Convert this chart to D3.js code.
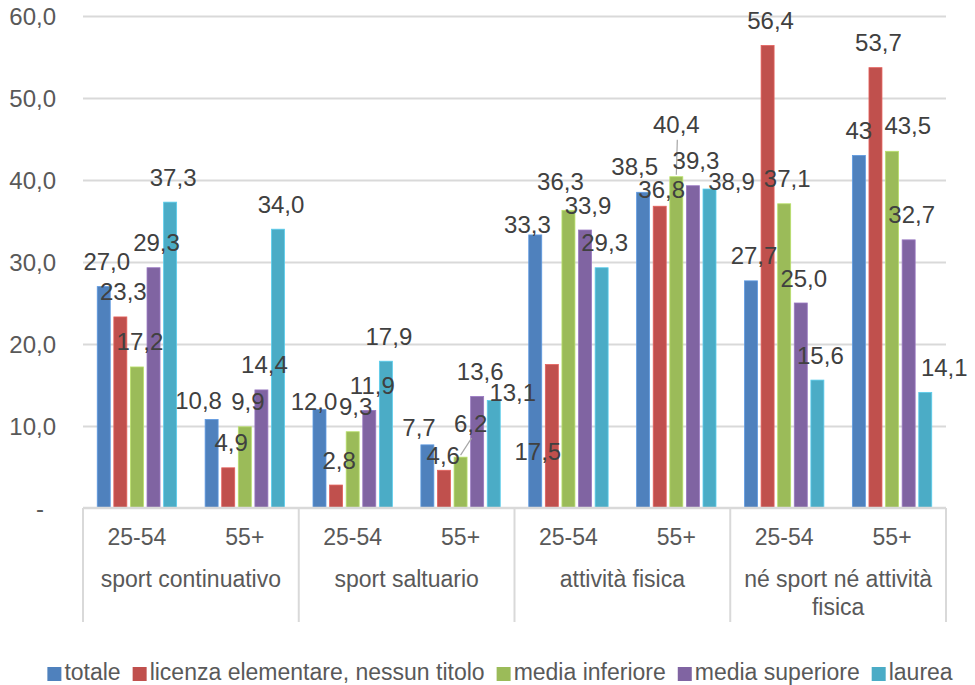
<!DOCTYPE html>
<html>
<head>
<meta charset="utf-8">
<script src="https://cdn.jsdelivr.net/npm/d3@7"></script>
<style>
  body { margin: 0; background: #fff; }
  svg { font-family: 'Liberation Sans', Arial, sans-serif; }
</style>
</head>
<body>
<svg id="chart" width="975" height="685"></svg>
<script>
// categories / sub-categories
var categories = ['sport continuativo', 'sport saltuario', 'attività fisica', 'né sport né attività fisica'];
var ageGroups = ['25-54', '55+'];
var seriesNames = ['totale', 'licenza elementare, nessun titolo', 'media inferiore', 'media superiore', 'laurea'];
var seriesColors = ['#4F81BD', '#C0504D', '#9BBB59', '#8064A2', '#4BACC6'];

// values, order: cat1 25-54, cat1 55+, cat2 25-54, ...
var totale = [27.0, 10.8, 12.0, 7.7, 33.3, 38.5, 27.7, 43];
var licenza = [23.3, 4.9, 2.8, 4.6, 17.5, 36.8, 56.4, 53.7];
var mediaInferiore = [17.2, 9.9, 9.3, 6.2, 36.3, 40.4, 37.1, 43.5];
var mediaSuperiore = [29.3, 14.4, 11.9, 13.6, 33.9, 39.3, 25.0, 32.7];
var laurea = [37.3, 34.0, 17.9, 13.1, 29.3, 38.9, 15.6, 14.1];
var series = [totale, licenza, mediaInferiore, mediaSuperiore, laurea];

var yTicks = [0, 10, 20, 30, 40, 50, 60];

// label shown without decimals in the source
var labelTextOverride = {'0-7': '43'};

// data labels moved by hand in the original (dx, dy from default spot)
var labelShift = {
	'0-1': [-16, 6], '0-2': [-8.5, 16.5], '0-3': [-11.4, 8], '1-3': [-3.7, 10.4],
	'2-3': [7, -9], '4-3': [16, 17], '0-4': [-10.8, 14.7], '1-4': [-17, 112],
	'2-4': [-11, -3.5], '0-5': [-11.4, -1], '1-5': [-1, 8], '2-5': [-3, -27],
	'4-5': [19, 17], '0-7': [-3, 0], '2-7': [12.7, -1], '4-7': [16, 0]
};
var leaderLines = ['2-3', '2-5'];

var svg = d3.select('#chart'),
	margin = {top: 16, right: 29, bottom: 177, left: 83},
	width = +svg.attr('width') - margin.left - margin.right,
	height = +svg.attr('height') - margin.top - margin.bottom;

var it = d3.formatLocale({decimal: ',', thousands: '.', grouping: [3], currency: ['', '€']});
var fmt = it.format('.1f');

var slots = [];
categories.forEach(function(c, ci) {
	ageGroups.forEach(function(a, ai) { slots.push({cat: c, age: a, idx: ci * 2 + ai}); });
});

var x0 = d3.scaleBand().domain(d3.range(slots.length)).range([0, width]).padding(0),
	x1 = d3.scaleBand().domain(d3.range(series.length)).range([0, x0.bandwidth()])
		.paddingInner(0).paddingOuter(0.75),
	y = d3.scaleLinear().domain([0, 60]).range([height, 0]);

var g = svg.append('g')
	.attr('transform', 'translate(' + margin.left + ',' + margin.top + ')');

// y axis + gridlines
var yAxis = g.append('g')
	.attr('class', 'axis axis--y')
	.call(d3.axisLeft(y).tickValues(yTicks).tickSizeInner(-width).tickSizeOuter(0).tickPadding(27)
		.tickFormat(function(d) { return d === 0 ? '-' : fmt(d); }));
yAxis.select('.domain').remove();
yAxis.selectAll('line')
	.attr('stroke', '#d9d9d9')
	.attr('stroke-width', 2)
	.filter(function(d) { return d === 0; }).remove();
yAxis.selectAll('text')
	.attr('fill', '#595959')
	.attr('font-size', 24)
	.attr('dy', '0.35em')
	.attr('x', function(d) { return d === 0 ? -39 : -27; });

// bars
series.forEach(function(vals, s) {
	g.selectAll('.bar-' + s)
		.data(vals)
		.enter().append('rect')
		.attr('class', 'bar bar-' + s)
		.attr('fill', seriesColors[s])
		.attr('stroke', d3.color(seriesColors[s]).brighter(0.5))
		.attr('stroke-width', 0.8)
		.attr('x', function(d, i) { return x0(i) + x1(s) + 1.8; })
		.attr('y', function(d) { return y(d); })
		.attr('width', x1.bandwidth() - 3.6)
		.attr('height', function(d) { return height - y(d); });
});

// category axis
var axisG = g.append('g').attr('class', 'axis axis--x');
axisG.append('line')
	.attr('x1', 0).attr('x2', width)
	.attr('y1', height).attr('y2', height)
	.attr('stroke', '#d9d9d9').attr('stroke-width', 2.5);
d3.range(categories.length + 1).forEach(function(k) {
	var xx = k < categories.length ? x0(k * 2) : width;
	axisG.append('line')
		.attr('x1', xx).attr('x2', xx)
		.attr('y1', height).attr('y2', height + 114)
		.attr('stroke', '#d9d9d9').attr('stroke-width', 2);
});
axisG.selectAll('.sub')
	.data(slots)
	.enter().append('text')
	.attr('class', 'sub')
	.attr('x', function(d) { return x0(d.idx) + x0.bandwidth() / 2; })
	.attr('y', height + 37)
	.attr('text-anchor', 'middle')
	.attr('fill', '#595959')
	.attr('font-size', 23)
	.text(function(d) { return d.age; });

var catText = axisG.selectAll('.cat')
	.data(categories)
	.enter().append('text')
	.attr('class', 'cat')
	.attr('x', function(d, i) { return x0(i * 2) + x0.bandwidth(); })
	.attr('y', height + 79)
	.attr('text-anchor', 'middle')
	.attr('fill', '#595959')
	.attr('font-size', 23);

// simple word wrap for the long category name
catText.each(function(d) {
	var t = d3.select(this), words = d.split(' '), line = [], lineNo = 0,
		xx = t.attr('x');
	var ts = t.append('tspan').attr('x', xx);
	words.forEach(function(w) {
		line.push(w);
		ts.text(line.join(' '));
		if (ts.node().getComputedTextLength() > 2 * x0.bandwidth() - 12 && line.length > 1) {
			line.pop();
			ts.text(line.join(' '));
			line = [w];
			lineNo++;
			ts = t.append('tspan').attr('x', xx).attr('dy', 28).text(w);
		}
	});
});

// data labels
var labels = [];
series.forEach(function(vals, s) {
	vals.forEach(function(v, i) {
		var key = s + '-' + i,
			sh = labelShift[key] || [0, 0],
			cx = x0(i) + x1(s) + x1.bandwidth() / 2;
		labels.push({
			key: key, cx: cx, top: y(v),
			lx: cx + 3 + sh[0], ly: y(v) - 25 + sh[1],
			text: labelTextOverride[key] || fmt(v)
		});
	});
});

g.selectAll('.leader')
	.data(labels.filter(function(d) { return leaderLines.indexOf(d.key) >= 0; }))
	.enter().append('line')
	.attr('class', 'leader')
	.attr('x1', function(d) { return d.cx; })
	.attr('y1', function(d) { return d.top - 2; })
	.attr('x2', function(d) { return d.lx + 1; })
	.attr('y2', function(d) { return d.ly + 15; })
	.attr('stroke', '#a6a6a6')
	.attr('stroke-width', 1.2);

g.selectAll('.label')
	.data(labels)
	.enter().append('text')
	.attr('class', 'label')
	.attr('x', function(d) { return d.lx; })
	.attr('y', function(d) { return d.ly + 8.5; })
	.attr('text-anchor', 'middle')
	.attr('fill', '#404040')
	.attr('font-size', 24)
	.text(function(d) { return d.text; });

// legend
var legend = svg.append('g').attr('class', 'legend');
var items = legend.selectAll('.item')
	.data(seriesNames)
	.enter().append('g')
	.attr('class', 'item');
items.append('rect')
	.attr('width', 14).attr('height', 14)
	.attr('y', 667)
	.attr('fill', function(d, i) { return seriesColors[i]; });
items.append('text')
	.attr('x', 17)
	.attr('y', 680)
	.attr('fill', '#595959')
	.attr('font-size', 23)
	.text(function(d) { return d; });
var offsets = [], cur = 0;
items.each(function() {
	offsets.push(cur);
	cur += 17 + d3.select(this).select('text').node().getComputedTextLength() + 12;
});
var total = cur - 12, startX = 500 - total / 2;
items.attr('transform', function(d, i) { return 'translate(' + (startX + offsets[i]) + ',0)'; });
</script>
</body>
</html>
